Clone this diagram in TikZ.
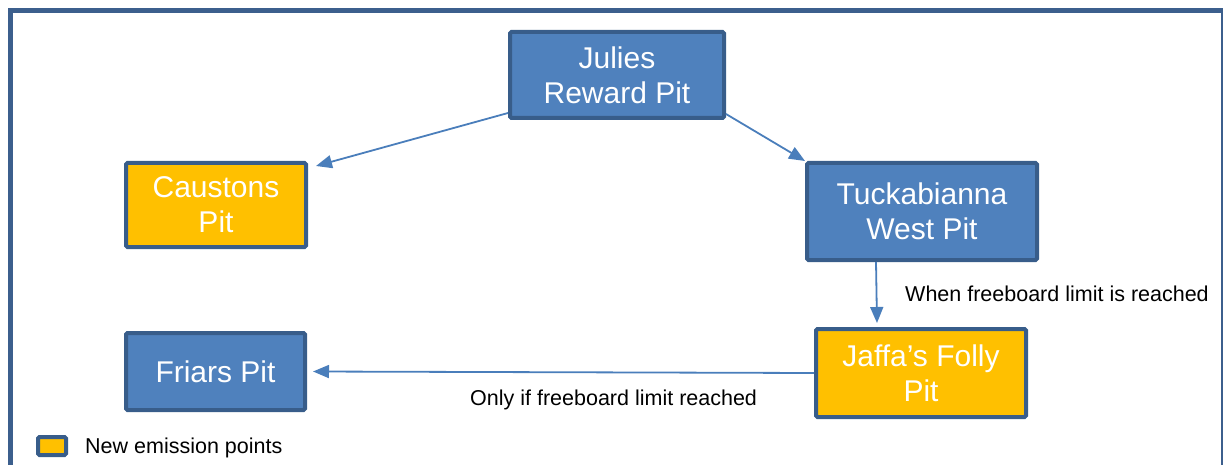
\documentclass[tikz,border=0pt]{standalone}
\usepackage{fontspec}
\setmainfont{Liberation Sans}
\usepackage{tikz}
\usetikzlibrary{arrows.meta}
\definecolor{pitblue}{HTML}{4F81BD}
\definecolor{pitedge}{HTML}{385D8A}
\definecolor{pitnew}{HTML}{FFC000}
\definecolor{flowline}{HTML}{4A7EBB}
\definecolor{framecol}{HTML}{3C5F8D}
\tikzset{pit/.style={rectangle, draw=pitedge, line width=4pt, fill=pitblue, rounded corners=1.5pt,
      inner sep=0pt, align=center, text=white, font=\fontsize{30}{35}\selectfont}}
\tikzset{newpit/.style={pit, fill=pitnew}}
\tikzset{flow/.style={draw=flowline, line width=1.8pt, -{Triangle[length=16pt,width=13pt]}}}
\tikzset{note/.style={anchor=west, inner sep=0pt, font=\fontsize{21.5}{25}\selectfont}}
\begin{document}
\begin{tikzpicture}[x=1pt,y=-1pt]
		\useasboundingbox (0,0) rectangle (1223,465);
		\clip (0,0) rectangle (1223,465);
		\draw[framecol, line width=5pt] (10,10.5) rectangle (1223.5,490);
		% pits
		\node[pit, minimum width=214pt, minimum height=86pt] (julies) at (617,75) {Julies\\Reward Pit};
		\node[newpit, minimum width=180pt, minimum height=84pt] (caustons) at (216,205) {Caustons\\Pit};
		\node[pit, minimum width=230pt, minimum height=97pt] (tuck) at (922,211.5) {Tuckabianna\\West Pit};
		\node[newpit, minimum width=210pt, minimum height=88pt] (jaffa) at (921,373) {Jaffa’s Folly\\Pit};
		\node[pit, minimum width=179pt, minimum height=77pt] (friars) at (215.5,371.5) {Friars Pit};
		% flows between pits
		\draw[flow] ([yshift=7pt]julies.south west) -- ([shift={(8pt,-5pt)}]caustons.north east);
		\draw[flow] ([yshift=6pt]julies.south east) -- (tuck.north west);
		\draw[flow] ([xshift=-46pt]tuck.south) -- ([xshift=-44pt,yshift=4pt]jaffa.north);
		\draw[flow] (jaffa.west) -- ([xshift=6pt]friars.east);
		\node[note] (whenfull) at (905,294) {When freeboard limit is reached};
		\node[note] (onlyfull) at (470,400) {Only if freeboard limit reached};
		% legend
		\node[newpit, line width=4pt, minimum width=28pt, minimum height=18pt] (key) at (52,446) {};
		\node[note] (keytext) at (85,448) {New emission points};
\end{tikzpicture}
\end{document}
